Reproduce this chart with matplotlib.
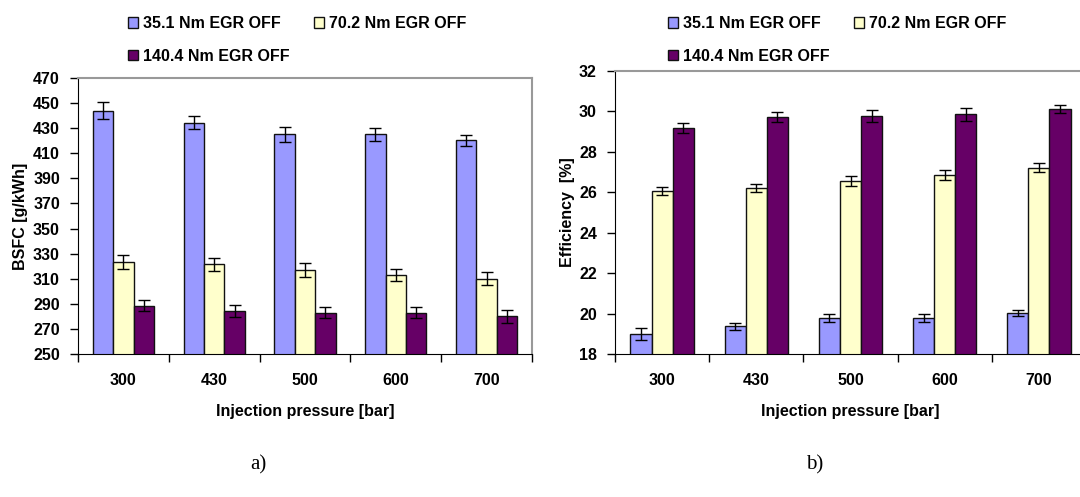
import numpy as np
import matplotlib
matplotlib.use("Agg")
import matplotlib.pyplot as plt

plt.rcParams['font.family'] = ['Liberation Sans', 'DejaVu Sans']
plt.rcParams['font.weight'] = 'bold'

pressures = ["300", "430", "500", "600", "700"]
series = ["35.1 Nm EGR OFF", "70.2 Nm EGR OFF", "140.4 Nm EGR OFF"]
colors = ["#9999FF", "#FFFFCC", "#660066"]

# BSFC [g/kWh] and its error, one row per load
bsfc = [[444.0, 434.5, 425.0, 425.0, 420.5],
        [323.5, 321.5, 317.0, 313.0, 310.0],
        [288.5, 284.5, 283.0, 283.0, 280.0]]
bsfc_err = [[6.5, 5.4, 6.0, 5.3, 4.4],
            [5.5, 5.4, 5.4, 5.0, 5.2],
            [4.2, 4.8, 4.4, 4.4, 5.0]]

# brake thermal efficiency [%]
eff = [[19.00, 19.37, 19.77, 19.77, 20.03],
       [26.08, 26.20, 26.55, 26.87, 27.21],
       [29.19, 29.72, 29.79, 29.85, 30.12]]
eff_err = [[0.29, 0.17, 0.20, 0.20, 0.17],
           [0.20, 0.20, 0.25, 0.25, 0.22],
           [0.25, 0.25, 0.30, 0.30, 0.20]]

FS = 11.5   # ticks and axis titles
LFS = 11.5  # legend

fig = plt.figure(figsize=(10.8, 4.97), dpi=100)
ax1 = fig.add_axes([78 / 1080, 143 / 497, 454 / 1080, 276 / 497])
ax2 = fig.add_axes([615 / 1080, 143 / 497, 471 / 1080, 283 / 497])


def draw(ax, vals, errs, ylim, step, ylabel, ylpad):
    x = np.arange(len(pressures))
    w = 0.225
    handles = []
    for i, (v, e) in enumerate(zip(vals, errs)):
        b = ax.bar(x + (i - 1) * w, v, w, bottom=0, color=colors[i],
                   edgecolor="#111111", linewidth=1.0, zorder=2)
        ax.errorbar(x + (i - 1) * w, v, yerr=e, fmt="none", ecolor="black",
                    elinewidth=1.0, capsize=4, capthick=1.0, zorder=3)
        handles.append(b)
    ax.set_xlim(-0.5, len(pressures) - 0.5)
    ax.set_ylim(*ylim)
    ax.set_yticks(np.arange(ylim[0], ylim[1] + step / 2, step))
    ax.set_xticks(np.arange(len(pressures) + 1) - 0.5)
    ax.set_xticklabels([])
    ax.set_xticks(x, minor=True)
    ax.set_xticklabels(pressures, minor=True, fontsize=FS, fontweight="bold")
    ax.tick_params(axis="x", which="minor", length=0, pad=14)
    ax.tick_params(axis="x", which="major", length=6, width=1, direction="out")
    ax.tick_params(axis="y", length=6, width=1, direction="out", labelsize=FS,
                   pad=7)
    for t in ax.get_yticklabels():
        t.set_fontweight("bold")
    ax.spines["left"].set_color("black")
    ax.spines["bottom"].set_color("black")
    ax.spines["top"].set_color("#999999")
    ax.spines["right"].set_color("#999999")
    ax.spines["top"].set_linewidth(1.5)
    ax.spines["right"].set_linewidth(1.5)
    ax.set_xlabel("Injection pressure [bar]", fontsize=FS, fontweight="bold",
                  labelpad=11)
    ax.set_ylabel(ylabel, fontsize=FS, fontweight="bold", labelpad=ylpad)
    # two entries on the first row, the third one below
    order = [0, 2, 1]
    return [handles[k] for k in order], [series[k] for k in order]


legend_kw = dict(ncol=2, loc="upper left", frameon=False, handlelength=0.65,
                 handleheight=0.65, handletextpad=0.3, labelspacing=1.1,
                 columnspacing=1.5, borderpad=0.0, borderaxespad=0.0,
                 prop={"weight": "bold", "size": LFS})

h, l = draw(ax1, bsfc, bsfc_err, (250, 470), 20, "BSFC [g/kWh]", 4)
fig.legend(h, l, bbox_to_anchor=(128 / 1080, 1 - 16 / 497), **legend_kw)

h, l = draw(ax2, eff, eff_err, (18, 32), 2, "Efficiency  [%]", 3)
fig.legend(h, l, bbox_to_anchor=(668 / 1080, 1 - 16 / 497), **legend_kw)

fig.text(258 / 1080, 1 - 465 / 497, "a)", ha="center", va="center",
         family="Liberation Serif", fontweight="normal", fontsize=15)
fig.text(815 / 1080, 1 - 465 / 497, "b)", ha="center", va="center",
         family="Liberation Serif", fontweight="normal", fontsize=15)

fig.savefig("out.png", dpi=100)
